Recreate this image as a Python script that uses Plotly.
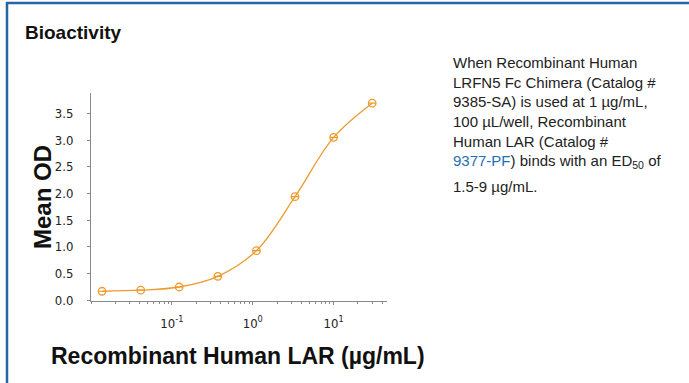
import plotly.graph_objects as go

# Data
concentration = [0.0137, 0.0412, 0.123, 0.370, 1.11, 3.33, 10.0, 30.0]
mean_od = [0.17, 0.19, 0.25, 0.45, 0.93, 1.94, 3.05, 3.69]
y_ticks = [0.0, 0.5, 1.0, 1.5, 2.0, 2.5, 3.0, 3.5]
y_tick_text = ["0.0", "0.5", "1.0", "1.5", "2.0", "2.5", "3.0", "3.5"]
x_ticks = [0.1, 1, 10]
x_tick_text = ["10<sup>-1</sup>", "10<sup>0</sup>", "10<sup>1</sup>"]

W, H = 689, 383
L, R, T, B = 91, 387, 93, 301
ORANGE = "#EE9A2C"
TICKFONT = "DejaVu Sans Condensed, Liberation Sans Narrow, Arial Narrow, sans-serif"
MAINFONT = "Liberation Sans, Arial, sans-serif"

fig = go.Figure()
fig.add_trace(go.Scatter(
    x=concentration, y=mean_od, mode="lines+markers",
    line=dict(color=ORANGE, width=1.3, shape="spline", smoothing=1.0),
    marker=dict(symbol="circle-open", size=7.5, color=ORANGE, line=dict(width=1.3)),
    error_y=dict(type="data", array=[0.0] * len(mean_od), color=ORANGE, thickness=1.2, width=3.5),
    showlegend=False, hoverinfo="x+y",
))

def px_x(p):
    return (p - L) / (R - L)

def px_y(p):
    return (B - p) / (B - T)

fig.update_layout(
    width=W, height=H,
    margin=dict(l=L, r=W - R, t=T, b=H - B, pad=0),
    paper_bgcolor="white", plot_bgcolor="white",
    xaxis=dict(
        type="log", range=[-2.0, 1.66], showgrid=False, zeroline=False,
        showline=True, linecolor="#8a8a8a", linewidth=1,
        tickvals=x_ticks, ticktext=x_tick_text,
        ticks="outside", ticklen=3, tickcolor="#8a8a8a",
        ticklabelstandoff=7,
        tickfont=dict(family=TICKFONT, size=13, color="#222"),
        minor=dict(ticks="outside", ticklen=2, tickcolor="#8a8a8a", dtick="D1", showgrid=False),
        title=None,
    ),
    yaxis=dict(
        range=[-0.012, 3.88], showgrid=False, zeroline=False,
        showline=True, linecolor="#8a8a8a", linewidth=1,
        tickvals=y_ticks, ticktext=y_tick_text,
        ticks="outside", ticklen=3, tickcolor="#8a8a8a",
        ticklabelstandoff=11,
        tickfont=dict(family=TICKFONT, size=13, color="#222"),
        title=None,
    ),
    font=dict(family=MAINFONT, color="#111"),
)

ann = []
# Section title
ann.append(dict(text="<b>Bioactivity</b>", x=px_x(23), y=px_y(33), xref="paper", yref="paper",
                xanchor="left", yanchor="middle", showarrow=False,
                font=dict(size=19, color="#111", family=MAINFONT)))
# Axis titles
ann.append(dict(text="<b>Mean OD</b>", x=px_x(42), y=px_y(197), xref="paper", yref="paper",
                xanchor="center", yanchor="middle", textangle=-90, showarrow=False,
                font=dict(size=24, color="#111", family=MAINFONT)))
ann.append(dict(text="<b>Recombinant Human LAR (µg/mL)</b>", x=px_x(238), y=px_y(356),
                xref="paper", yref="paper", xanchor="center", yanchor="middle", showarrow=False,
                font=dict(size=23, color="#111", family=MAINFONT)))

# Description text
desc_lines = [
    "When Recombinant Human",
    "LRFN5 Fc Chimera (Catalog #",
    "9385-SA) is used at 1 µg/mL,",
    "100 µL/well, Recombinant",
    "Human LAR (Catalog #",
    "<span style='color:#1f6fb5'>9377-PF</span>) binds with an ED<sub>50</sub> of",
    "1.5-9 µg/mL.",
]
desc_y = [62, 82, 102, 122, 141, 161, 186]
for line, yy in zip(desc_lines, desc_y):
    ann.append(dict(text=line, x=px_x(451), y=px_y(yy), xref="paper", yref="paper",
                    xanchor="left", yanchor="middle", showarrow=False,
                    font=dict(size=15, color="#222", family=MAINFONT)))
fig.update_layout(annotations=ann)

# Frame lines (top and left)
fig.update_layout(shapes=[
    dict(type="line", xref="paper", yref="paper", x0=px_x(6), x1=px_x(689), y0=px_y(3), y1=px_y(3),
         line=dict(color="#2566a8", width=2.5)),
    dict(type="line", xref="paper", yref="paper", x0=px_x(7), x1=px_x(7), y0=px_y(2), y1=px_y(383),
         line=dict(color="#2566a8", width=2.5)),
])

fig.write_html("out.html", config={"displayModeBar": False},
               post_script="document.body.style.margin='0';document.body.style.overflow='hidden';")
